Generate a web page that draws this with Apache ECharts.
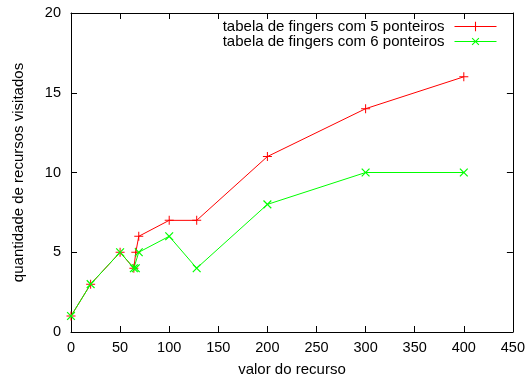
<!DOCTYPE html>
<html>
<head>
<meta charset="utf-8">
<script src="https://cdn.jsdelivr.net/npm/echarts@6/dist/echarts.min.js"></script>
<style>
  html, body { margin: 0; padding: 0; background: #fff; }
  #chart { width: 528px; height: 382px; }
</style>
</head>
<body>
<div id="chart"></div>
<script>
// valores
const xValores5 = [0, 20, 50, 64, 66, 69, 100, 128, 200, 300, 400]
const yVisitados5 = [1, 3, 5, 4, 5, 6, 7, 7, 11, 14, 16]
const xValores6 = [0, 20, 50, 64, 66, 69, 100, 128, 200, 300, 400]
const yVisitados6 = [1, 3, 5, 4, 4, 5, 6, 4, 8, 10, 10]
const nomes = ['tabela de fingers com 5 ponteiros', 'tabela de fingers com 6 ponteiros']

const FONT = 'Liberation Sans, Arial, sans-serif'
const PLUS = 'path://M4,0h1v4h4v1h-4v4h-1v-4h-4v-1h4z'

const pares = (xs, ys) => xs.map((x, i) => [x, ys[i]])

const chart = echarts.init(document.getElementById('chart'), null, { renderer: 'canvas' })

const eixoX = (pos, showLabel) => ({
  type: 'value', position: pos, min: 0, max: 450, interval: 50,
  name: showLabel ? 'valor do recurso' : '', nameLocation: 'middle', nameGap: 30,
  nameTextStyle: { color: '#000', fontSize: 15, fontFamily: FONT },
  axisLine: { show: true, onZero: false, lineStyle: { color: '#000', width: 1 } },
  axisTick: { show: true, inside: true, length: 6, lineStyle: { color: '#000' } },
  axisLabel: { show: showLabel, color: '#000', fontSize: 14.5, fontFamily: FONT, margin: 8 },
  splitLine: { show: false },
})

const eixoY = (pos, showLabel) => ({
  type: 'value', position: pos, min: 0, max: 20, interval: 5,
  name: showLabel ? 'quantidade de recursos visitados' : '', nameLocation: 'middle', nameGap: 45,
  nameTextStyle: { color: '#000', fontSize: 15, fontFamily: FONT },
  axisLine: { show: true, onZero: false, lineStyle: { color: '#000', width: 1 } },
  axisTick: { show: true, inside: true, length: 6, lineStyle: { color: '#000' } },
  axisLabel: { show: showLabel, color: '#000', fontSize: 14.5, fontFamily: FONT, margin: 10 },
  splitLine: { show: false },
})

const option = {
  backgroundColor: '#fff',
  animation: false,
  grid: { left: 71, right: 12, top: 13, bottom: 49 },
  legend: {
    right: 31, top: 19, orient: 'vertical', align: 'right',
    padding: 0, itemGap: 0, itemWidth: 42, itemHeight: 12,
    lineStyle: { width: 1 },
    textStyle: { color: '#000', fontSize: 15, fontFamily: FONT, lineHeight: 15, padding: [0, 5, 0, 0] },
    data: nomes,
  },
  xAxis: [eixoX('bottom', true), eixoX('top', false)],
  yAxis: [eixoY('left', true), eixoY('right', false)],
  series: [
    {
      name: nomes[0], type: 'line', data: pares(xValores5, yVisitados5),
      symbol: PLUS, symbolSize: 9,
      lineStyle: { color: '#ff0000', width: 1 },
      itemStyle: { color: '#ff0000' },
    },
    {
      name: nomes[1], type: 'line', data: pares(xValores6, yVisitados6),
      symbol: PLUS, symbolSize: 11, symbolRotate: 45,
      lineStyle: { color: '#00ff00', width: 1 },
      itemStyle: { color: '#00ff00' },
    },
  ],
}
chart.setOption(option)
</script>
</body>
</html>
